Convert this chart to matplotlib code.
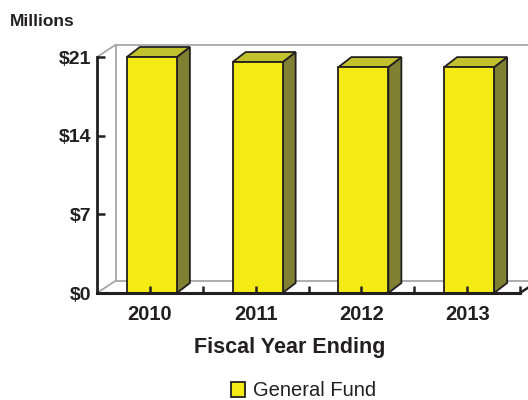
import matplotlib
matplotlib.use("Agg")
import matplotlib.pyplot as plt
from matplotlib.patches import Polygon, Rectangle, Patch

plt.rcParams['font.family'] = ['Liberation Sans', 'DejaVu Sans']

# Data
years = ["2010", "2011", "2012", "2013"]
general_fund = [21.0, 20.55, 20.1, 20.1]
y_ticks = [0, 7, 14, 21]
y_tick_labels = ["$0", "$7", "$14", "$21"]

# Styling
INK = "#231f20"
FRONT = "#f5eb14"
TOP = "#c2c22e"
SIDE = "#808033"
WALL = "#a0a0a2"

W, H, DPI = 528, 400, 100
fig = plt.figure(figsize=(W / DPI, H / DPI), dpi=DPI)

# Plot box in pixels (measured from the top-left corner of the canvas)
left_px, right_px = 97, 520
top_px, bottom_px = 57, 293
ax = fig.add_axes([left_px / W, 1 - bottom_px / H,
                   (right_px - left_px) / W, (bottom_px - top_px) / H])
ax.set_xlim(-0.5, len(years) - 0.5)
ax.set_ylim(0, 21)

px_per_x = (right_px - left_px) / len(years)
px_per_y = (bottom_px - top_px) / 21.0


def ddx(p):
    return p / px_per_x


def ddy(p):
    return p / px_per_y


# Depth of the chart box and of the bars (pseudo-3D)
wdx, wdy = ddx(19), ddy(12.5)
bdx, bdy = ddx(13), ddy(10)
bar_w = ddx(50)
shift = ddx(2)

x_lo, x_hi = -0.5, len(years) - 0.5
wall_kw = dict(color=WALL, lw=1.2, clip_on=False, zorder=0.5, solid_capstyle='butt')
ax.plot([x_lo, x_lo + wdx], [21, 21 + wdy], **wall_kw)
ax.plot([x_lo + wdx, x_lo + wdx], [wdy, 21 + wdy], **wall_kw)
ax.plot([x_lo + wdx, x_hi + wdx], [21 + wdy, 21 + wdy], **wall_kw)
ax.plot([x_lo + wdx, x_hi + wdx], [wdy, wdy], **wall_kw)
ax.plot([x_lo, x_lo + wdx], [0, wdy], **wall_kw)
ax.plot([x_hi, x_hi + wdx], [0, wdy], color=INK, lw=1.8, clip_on=False, zorder=3)

# Bars
edge_kw = dict(edgecolor=INK, linewidth=1.3, joinstyle='miter', clip_on=False, zorder=1)
for i, v in enumerate(general_fund):
    x0 = i - bar_w / 2 + shift
    x1 = x0 + bar_w
    ax.add_patch(Polygon([(x1, 0), (x1 + bdx, bdy), (x1 + bdx, v + bdy), (x1, v)],
                         closed=True, facecolor=SIDE, **edge_kw))
    ax.add_patch(Polygon([(x0, v), (x1, v), (x1 + bdx, v + bdy), (x0 + bdx, v + bdy)],
                         closed=True, facecolor=TOP, **edge_kw))
    ax.add_patch(Rectangle((x0, 0), bar_w, v, facecolor=FRONT, **edge_kw))

# Axes lines and ticks
for s in ("top", "right"):
    ax.spines[s].set_visible(False)
ax.spines["left"].set_linewidth(2.0)
ax.spines["bottom"].set_linewidth(2.2)
ax.spines["left"].set_color(INK)
ax.spines["bottom"].set_color(INK)
ax.spines["left"].set_zorder(3)
ax.spines["bottom"].set_zorder(3)

ax.set_yticks(y_ticks, y_tick_labels, fontweight='bold')
ax.set_xticks(range(len(years)), years, fontweight='bold')
ax.set_xticks([i + 0.5 for i in range(len(years))], minor=True)
ax.tick_params(axis='y', direction='in', length=6, width=1.8, pad=4,
               labelsize=14, colors=INK)
ax.tick_params(axis='x', which='both', direction='in', length=5, width=1.8,
               pad=9, labelsize=14.5, colors=INK)

fig.text(10 / W, 1 - 26 / H, "Millions", fontsize=12.5, fontweight='bold',
         color=INK, ha='left', va='baseline')
fig.text(290 / W, 1 - 353 / H, "Fiscal Year Ending", fontsize=15.5,
         fontweight='bold', color=INK, ha='center', va='baseline')

fig.legend(handles=[Patch(facecolor=FRONT, edgecolor=INK, linewidth=1.3)],
           labels=["General Fund"], loc='center',
           bbox_to_anchor=(303.5 / W, 1 - 391 / H), frameon=False,
           fontsize=14.5, handlelength=0.7, handleheight=0.7,
           handletextpad=0.35, borderpad=0, borderaxespad=0, labelcolor=INK)

fig.savefig("out.png", dpi=DPI)
